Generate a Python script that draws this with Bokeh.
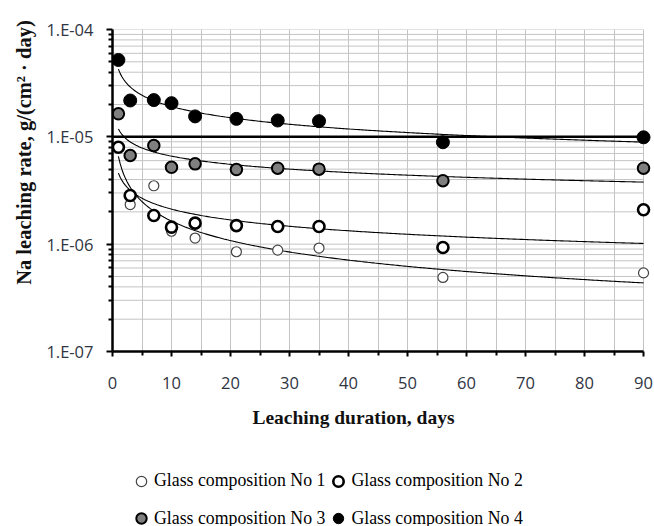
import numpy as np
from bokeh.plotting import figure
from bokeh.layouts import row, column
from bokeh.models import (FixedTicker, CustomJSTickFormatter, Legend,
                          LegendItem, Label, Range1d)
from bokeh.embed import file_html
from bokeh.resources import INLINE

# ---------------- data ----------------
days = [1, 3, 7, 10, 14, 21, 28, 35, 56, 90]
comp1 = [8.0e-6, 2.34e-6, 3.5e-6, 1.32e-6, 1.14e-6, 8.5e-7, 8.8e-7, 9.2e-7, 4.9e-7, 5.4e-7]
comp2 = [8.0e-6, 2.84e-6, 1.85e-6, 1.44e-6, 1.57e-6, 1.49e-6, 1.46e-6, 1.46e-6, 9.3e-7, 2.09e-6]
comp3 = [1.64e-5, 6.7e-6, 8.3e-6, 5.2e-6, 5.6e-6, 4.96e-6, 5.1e-6, 5.0e-6, 3.9e-6, 5.1e-6]
comp4 = [5.2e-5, 2.18e-5, 2.2e-5, 2.06e-5, 1.55e-5, 1.47e-5, 1.42e-5, 1.40e-5, 8.9e-6, 9.9e-6]
series_names = ["Glass composition No 1", "Glass composition No 2",
                "Glass composition No 3", "Glass composition No 4"]
limit_level = 1e-5

x_min, x_max = 0, 90
x_pad = 1.35          # room right of x=90 so the last markers are not cut
x_ticks = [0, 10, 20, 30, 40, 50, 60, 70, 80, 90]
x_minor = [5, 15, 25, 35, 45, 55, 65, 75, 85]
y_ticks = [1e-7, 1e-6, 1e-5, 1e-4]
y_minor = [m * 10.0 ** e for e in (-7, -6, -5) for m in range(2, 10)]

x_title = "Leaching duration, days"
y_title = "Na leaching rate, g/(cm\u00b2 \u00b7 day)"

STRIP_W = 40     # left strip holding the y title
MAIN_H = 405     # main plot height
FRAME_LEFT = 112 # left edge of the plotting area in the page
TOTAL_W, TOTAL_H = 654, 526

styles = [
    dict(size=10, fill_color="white", line_color="#444444", line_width=1.2),
    dict(size=11, fill_color="white", line_color="black", line_width=2.6),
    dict(size=11.5, fill_color="#7f7f7f", line_color="black", line_width=2),
    dict(size=13, fill_color="black", line_color="black", line_width=1),
]
series = [comp1, comp2, comp3, comp4]


def blank_fig(w, h):
    f = figure(width=w, height=h, output_backend="svg", toolbar_location=None,
               x_axis_location=None, y_axis_location=None, min_border=0,
               x_range=Range1d(-2, -1), y_range=Range1d(-2, -1))
    f.outline_line_color = None
    f.grid.visible = False
    f.background_fill_color = "white"
    f.border_fill_color = "white"
    return f


# ---------------- main plot ----------------
p = figure(width=TOTAL_W - STRIP_W, height=MAIN_H, output_backend="svg",
           toolbar_location=None, y_axis_type="log",
           x_range=Range1d(x_min, x_max + x_pad),
           y_range=Range1d(y_ticks[0], y_ticks[-1]),
           min_border_left=FRAME_LEFT - STRIP_W, min_border_right=3,
           min_border_top=29, min_border_bottom=MAIN_H - 351)
p.outline_line_color = None
p.background_fill_color = "white"
p.border_fill_color = "white"

grid_color = "#c4c4c4"
p.xaxis.ticker = FixedTicker(ticks=x_ticks, minor_ticks=x_minor)
p.yaxis.ticker = FixedTicker(ticks=y_ticks, minor_ticks=y_minor)
p.xgrid.grid_line_color = grid_color
p.xgrid.minor_grid_line_color = grid_color
p.ygrid.grid_line_color = None
gy = y_ticks + y_minor          # horizontal grid lines, stopped at x = 90
p.segment(x0=[x_min] * len(gy), x1=[x_max] * len(gy), y0=gy, y1=gy,
          line_color=grid_color, line_width=1)
p.xaxis.bounds = (x_min, x_max)

p.yaxis.formatter = CustomJSTickFormatter(code="""
const e = Math.round(Math.log10(tick));
const s = Math.abs(e).toString().padStart(2, "0");
return "1.E" + (e < 0 ? "-" : "+") + s;
""")

for ax in (p.xaxis, p.yaxis):
    ax.axis_line_color = "black"
    ax.axis_line_width = 2.5
    ax.major_tick_line_color = "black"
    ax.major_tick_line_width = 2
    ax.minor_tick_line_color = "black"
    ax.minor_tick_line_width = 2
    ax.major_tick_in = 0
    ax.minor_tick_in = 0
    ax.major_label_text_font = "Open Sans"
    ax.major_label_text_font_size = "16.5px"
    ax.major_label_text_color = "#2f3542"
p.yaxis.major_tick_out = 6
p.yaxis.minor_tick_out = 4
p.yaxis.major_label_standoff = 13
p.xaxis.major_tick_out = 5
p.xaxis.minor_tick_out = 4
p.xaxis.major_label_standoff = 20

# limit line at 1E-05
p.line([x_min, x_max], [limit_level, limit_level], line_color="black", line_width=2.5)

# power-law trend lines fitted to each series (log-log least squares)
xs_fit = np.linspace(1, x_max, 300)
for ys in series:
    b, a = np.polyfit(np.log(days), np.log(ys), 1)
    p.line(xs_fit, np.exp(a) * xs_fit ** b, line_color="black", line_width=1.1)

for ys, st in zip(series, styles):
    p.scatter(days, ys, **st)

# ---------------- left strip with the y title ----------------
left = blank_fig(STRIP_W, TOTAL_H)
left.add_layout(Label(x=23, y=TOTAL_H - 152, x_units="screen", y_units="screen",
                      text=y_title, angle=np.pi / 2, text_align="center",
                      text_baseline="middle", text_font="Liberation Serif",
                      text_font_style="bold", text_font_size="20.5px",
                      text_color="#111111"))

# ---------------- bottom strip: x title + legend ----------------
# (its plotting area is aligned with the main plot's, starting at FRAME_LEFT)
bottom = blank_fig(TOTAL_W - STRIP_W, TOTAL_H - MAIN_H)
bottom.add_layout(Label(x=353 - FRAME_LEFT, y=TOTAL_H - 417, x_units="screen",
                        y_units="screen", text=x_title, text_align="center",
                        text_baseline="middle", text_font="Liberation Serif",
                        text_font_style="bold", text_font_size="19.5px",
                        text_color="#111111"))
# legend proxies (same styles, drawn outside this strip's visible ranges)
proxies = [bottom.scatter(days, ys, **st) for ys, st in zip(series, styles)]


def make_legend(idx, loc):
    return Legend(items=[LegendItem(label=series_names[i], renderers=[proxies[i]])
                         for i in idx],
                  location=loc, orientation="horizontal",
                  glyph_width=26, glyph_height=26, label_standoff=0, spacing=0,
                  padding=0, margin=0, border_line_color=None,
                  background_fill_alpha=0, label_text_font="Liberation Serif",
                  label_text_font_size="17.8px", label_text_color="black")


bottom.add_layout(make_legend([0, 1], (128 - FRAME_LEFT, TOTAL_H - 493.5)))
bottom.add_layout(make_legend([2, 3], (128 - FRAME_LEFT, TOTAL_H - 531)))

layout = row(left, column(p, bottom, spacing=0), spacing=0)
open("out.html", "w").write(file_html(layout, INLINE))
